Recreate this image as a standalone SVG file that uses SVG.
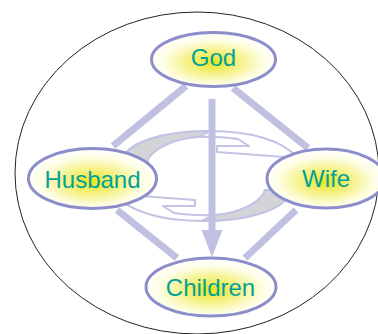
<svg xmlns="http://www.w3.org/2000/svg" xmlns:xlink="http://www.w3.org/1999/xlink" width="378" height="334" viewBox="0 0 378 334">
<style>
.node{stroke:#8b8ecb;stroke-width:3;fill:url(#glow)}
.lbl{font-family:"Liberation Sans",Arial,sans-serif;font-size:24px;fill:#00a198;text-anchor:middle}
.conn{stroke:#c0c1e1;stroke-width:7;fill:none}
.cyc{fill:#ffffff;stroke:#c3c4e3;stroke-width:2;stroke-linejoin:round}
.tail{fill:#d3d4d8;stroke:#c3c4e3;stroke-width:2;stroke-linejoin:round}
</style>
<defs>
<radialGradient id="glow" cx="50%" cy="55%" r="55%">
<stop offset="0" stop-color="#ece61a"/>
<stop offset="0.35" stop-color="#f4f07e"/>
<stop offset="0.75" stop-color="#fefee8"/>
<stop offset="1" stop-color="#ffffff"/>
</radialGradient>
<g id="cycArrow">
<path class="cyc" d="M122,162 C124,142 165,131 210,131 C250,131 282,140 298,158 L217,152 L217,146 L249,146 L238,139 C215,136 190,136 175,141 C160,146 149,154 147,162 Z"/>
<path class="tail" d="M122,162 C124,142 165,131 210,131 L200,136.5 C188,137 182,139 175,141 C160,146 149,154 147,162 Z"/>
</g>
</defs>
<ellipse cx="197" cy="173" rx="182" ry="161" fill="#ffffff" stroke="#222222" stroke-width="1"/>
<g id="connectors">
<line class="conn" x1="186" y1="86" x2="113" y2="146"/>
<line class="conn" x1="233" y1="88" x2="308" y2="148"/>
<line class="conn" x1="117" y1="210" x2="177" y2="258"/>
<line class="conn" x1="296" y1="210" x2="245" y2="258"/>
<use xlink:href="#cycArrow"/>
<use xlink:href="#cycArrow" transform="rotate(180 206 176)"/>
<line class="conn" x1="212" y1="99" x2="212" y2="232"/>
<polygon points="201.5,230 222.5,230 212,257" fill="#c0c1e1"/>
</g>
<g id="god">
<ellipse class="node" cx="213.5" cy="59.5" rx="62" ry="27"/>
<text class="lbl" x="213.5" y="65.5">God</text>
</g>
<g id="husband">
<ellipse class="node" cx="92.5" cy="178.5" rx="64" ry="30"/>
<text class="lbl" x="92.5" y="187.5">Husband</text>
</g>
<g id="wife">
<ellipse class="node" cx="326" cy="178.5" rx="59" ry="29.5"/>
<text class="lbl" x="326" y="186.5">Wife</text>
</g>
<g id="children">
<ellipse class="node" cx="211" cy="287" rx="65" ry="29"/>
<text class="lbl" x="210.5" y="296">Children</text>
</g>
</svg>
